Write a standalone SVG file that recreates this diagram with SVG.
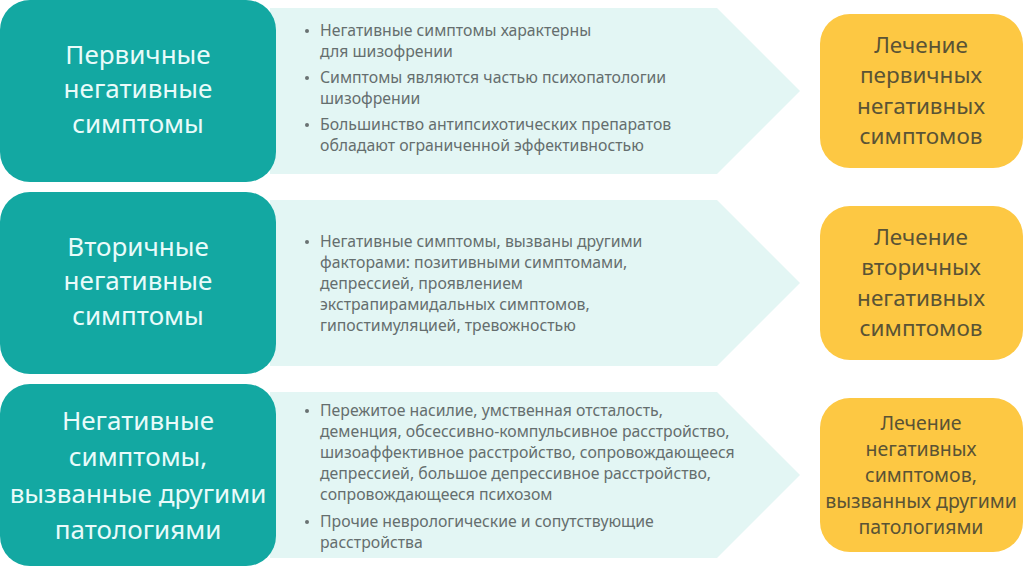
<svg xmlns="http://www.w3.org/2000/svg" width="1024" height="568" viewBox="0 0 1024 568">
<style>
.teal{fill:#13A8A2}
.chev{fill:#E3F6F4}
.orange{fill:#FDC843}
.title{font-family:"Noto Sans","Open Sans","DejaVu Sans",sans-serif;font-size:26px;fill:#E9FBFA;text-anchor:middle}
.body{font-family:"Noto Sans","Open Sans","DejaVu Sans",sans-serif;font-size:15.8px;fill:#656E6E}
.bullet{fill:#6A7272}
.res{font-family:"Noto Sans","Open Sans","DejaVu Sans",sans-serif;font-size:22.5px;fill:#5A5335;text-anchor:middle}
.res3{font-family:"Noto Sans","Open Sans","DejaVu Sans",sans-serif;font-size:19.5px;fill:#5A5335;text-anchor:middle}
</style>
<rect width="1024" height="568" fill="#FFFFFF"/>
<g id="connectors"></g>

<g id="row1-details">
<polygon class="chev" points="270,8 717,8 800,91 717,174 270,174"/>
<circle class="bullet" cx="307" cy="31" r="2"/>
<circle class="bullet" cx="307" cy="78" r="2"/>
<circle class="bullet" cx="307" cy="125" r="2"/>
<text class="body"><tspan x="320" y="36">Негативные симптомы характерны</tspan><tspan x="320" y="57">для шизофрении</tspan><tspan x="320" y="83">Симптомы являются частью психопатологии</tspan><tspan x="320" y="104">шизофрении</tspan><tspan x="320" y="130">Большинство антипсихотических препаратов</tspan><tspan x="320" y="151">обладают ограниченной эффективностью</tspan></text>
</g>
<g id="row1-title">
<rect class="teal" x="0" y="0" width="276" height="182" rx="30"/>
<text class="title"><tspan x="138" y="64">Первичные</tspan><tspan x="138" y="98">негативные</tspan><tspan x="138" y="133">симптомы</tspan></text>
</g>
<g id="row1-treatment">
<rect class="orange" x="820" y="14" width="203" height="154" rx="30"/>
<text class="res"><tspan x="921" y="53">Лечение</tspan><tspan x="921" y="83">первичных</tspan><tspan x="921" y="114">негативных</tspan><tspan x="921" y="144">симптомов</tspan></text>
</g>

<g id="row2-details">
<polygon class="chev" points="270,200 717,200 800,283 717,366 270,366"/>
<circle class="bullet" cx="307" cy="242" r="2"/>
<text class="body"><tspan x="320" y="247">Негативные симптомы, вызваны другими</tspan><tspan x="320" y="268">факторами: позитивными симптомами,</tspan><tspan x="320" y="289">депрессией, проявлением</tspan><tspan x="320" y="310">экстрапирамидальных симптомов,</tspan><tspan x="320" y="331">гипостимуляцией, тревожностью</tspan></text>
</g>
<g id="row2-title">
<rect class="teal" x="0" y="192" width="276" height="182" rx="30"/>
<text class="title"><tspan x="138" y="256">Вторичные</tspan><tspan x="138" y="290">негативные</tspan><tspan x="138" y="325">симптомы</tspan></text>
</g>
<g id="row2-treatment">
<rect class="orange" x="820" y="206" width="203" height="154" rx="30"/>
<text class="res"><tspan x="921" y="245">Лечение</tspan><tspan x="921" y="275">вторичных</tspan><tspan x="921" y="306">негативных</tspan><tspan x="921" y="336">симптомов</tspan></text>
</g>

<g id="row3-details">
<polygon class="chev" points="270,392 717,392 800,475 717,558 270,558"/>
<circle class="bullet" cx="307" cy="411" r="2"/>
<circle class="bullet" cx="307" cy="522" r="2"/>
<text class="body"><tspan x="320" y="416">Пережитое насилие, умственная отсталость,</tspan><tspan x="320" y="437">деменция, обсессивно-компульсивное расстройство,</tspan><tspan x="320" y="458">шизоаффективное расстройство, сопровождающееся</tspan><tspan x="320" y="479">депрессией, большое депрессивное расстройство,</tspan><tspan x="320" y="500">сопровождающееся психозом</tspan><tspan x="320" y="527">Прочие неврологические и сопутствующие</tspan><tspan x="320" y="548">расстройства</tspan></text>
</g>
<g id="row3-title">
<rect class="teal" x="0" y="384" width="276" height="182" rx="30"/>
<text class="title"><tspan x="138" y="430">Негативные</tspan><tspan x="138" y="466">симптомы,</tspan><tspan x="138" y="503">вызванные другими</tspan><tspan x="138" y="539">патологиями</tspan></text>
</g>
<g id="row3-treatment">
<rect class="orange" x="820" y="398" width="203" height="154" rx="30"/>
<text class="res3"><tspan x="921" y="430">Лечение</tspan><tspan x="921" y="456">негативных</tspan><tspan x="921" y="482">симптомов,</tspan><tspan x="921" y="508">вызванных другими</tspan><tspan x="921" y="534">патологиями</tspan></text>
</g>
</svg>
